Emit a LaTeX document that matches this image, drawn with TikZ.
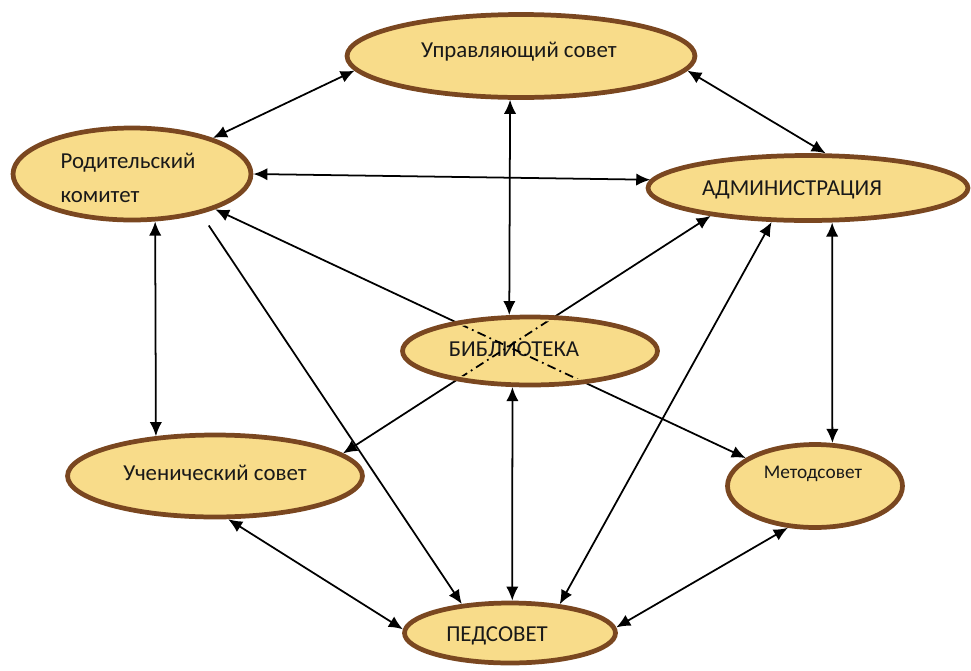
\documentclass[tikz,border=0pt]{standalone}
\usepackage{fontspec}
\setmainfont{Carlito}
\usetikzlibrary{arrows.meta,shapes.geometric,backgrounds}
\definecolor{ovfill}{HTML}{F8DC8A}
\definecolor{ovdraw}{HTML}{7A4720}
\begin{document}
\begin{tikzpicture}[x=0.02cm,y=-0.02cm,
  oval/.style={ellipse, draw=ovdraw, fill=ovfill, line width=2.7pt, inner sep=0pt},
  lbl/.style={font=\fontsize{13}{19}\selectfont, text=black!90, inner sep=0pt},
  smalllbl/.style={font=\fontsize{11}{13}\selectfont, text=black!90, inner sep=0pt},
  link/.style={line width=1pt, {Latex[length=8pt,width=7pt]}-{Latex[length=8pt,width=7pt]}},
  onelink/.style={line width=1pt, -{Latex[length=8pt,width=7pt]}},
  dashlink/.style={line width=1pt, dash pattern=on 5pt off 2.5pt on 1pt off 2.5pt}]
\useasboundingbox (0,0) rectangle (971,670);

% ovals
\node[oval, minimum width=6.96cm, minimum height=1.66cm] (upr) at (521,56) {};
\node[oval, minimum width=4.76cm, minimum height=1.84cm] (rod) at (132,174) {};
\node[oval, minimum width=6.40cm, minimum height=1.30cm] (adm) at (808,188) {};
\node[oval, minimum width=5.10cm, minimum height=1.36cm] (bib) at (530,351) {};
\node[oval, minimum width=5.90cm, minimum height=1.64cm] (uch) at (215,476) {};
\node[oval, minimum width=3.50cm, minimum height=1.66cm] (met) at (815,486) {};
\node[oval, minimum width=4.22cm, minimum height=1.20cm] (ped) at (510,633) {};

% labels
\node[lbl] (uprt) at (519,52) {Управляющий совет};
\node[lbl, align=left] (rodt) at (128,178) {Родительский\\комитет};
\node[lbl] (admt) at (792,190) {АДМИНИСТРАЦИЯ};
\node[lbl] (bibt) at (514,349) {БИБЛИОТЕКА};
\node[lbl] (ucht) at (215,473) {Ученический совет};
\node[smalllbl] (mett) at (813,474) {Методсовет};
\node[lbl] (pedt) at (497,636) {ПЕДСОВЕТ};

% connectors
\begin{pgfonlayer}{background}
\draw[link] (rod.-23) -- (met.158.9);
\draw[link] (adm.-164.2) -- (uch.10.3);
\end{pgfonlayer}
\draw[link] (upr.-175.5) -- (rod.24.4);
\draw[link] (upr.-5.2) -- (adm.63.4);
\draw[link] (upr.-104) -- (bib.120.3);
\draw[link] (rod.-0.7) -- (adm.177.2);
\draw[link] (rod.-64.2) -- (uch.146.4);
\draw[onelink, shorten <=8pt] (rod.-30.6) -- (ped.149.6);
\draw[link] (bib.-116.5) -- (ped.86.4);
\draw[link] (adm.-137.2) -- (ped.30.4);
\draw[link] (adm.-55.3) -- (met.68.5);
\draw[link] (uch.-73.3) -- (ped.178);
\draw[link] (met.-123.8) -- (ped.3.5);

% dash-dot parts inside the library oval
\begin{scope}
\clip (bib.center) ellipse [x radius=123, y radius=30];
\draw[dashlink] (rod.-23) -- (met.158.9);
\draw[dashlink] (adm.-164.2) -- (uch.10.3);
\end{scope}
\end{tikzpicture}
\end{document}
